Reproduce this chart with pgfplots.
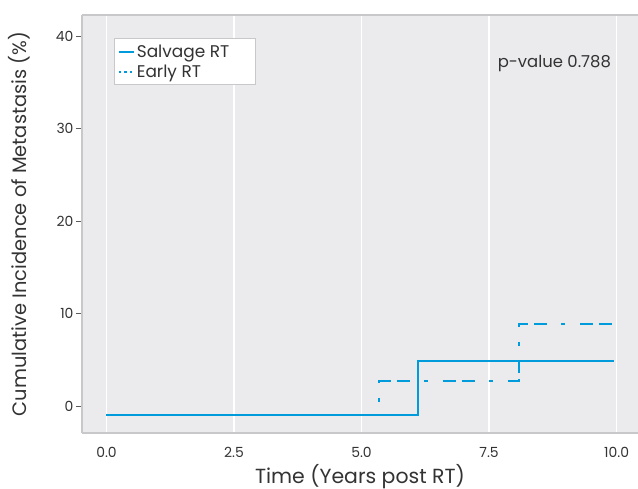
\documentclass[border=0pt]{standalone}
\usepackage{fontspec}
\setmainfont{Poppins}
\usepackage{pgfplots}
\pgfplotsset{compat=1.18}

\definecolor{rtblue}{RGB}{0,155,219}
\definecolor{panel}{RGB}{235,235,238}
\definecolor{frame}{RGB}{200,200,202}
\definecolor{txt}{RGB}{51,51,51}

\begin{document}
\begin{tikzpicture}
\useasboundingbox (-82bp,-56bp) rectangle (556bp,433bp);
\begin{axis}[
  scale only axis,
  width=556bp, height=418bp,
  xmin=-0.48, xmax=10.42,
  ymin=-2.9, ymax=42.3,
  axis background/.style={fill=panel},
  axis x line*=bottom, axis y line*=left,
  axis line style={draw=frame, line width=1.2bp, -},
  xtick={0,2.5,5,7.5,10},
  xticklabels={0.0,2.5,5.0,7.5,10.0},
  ytick={0,10,20,30,40},
  xmajorgrids,
  grid style={white, line width=1.3bp},
  tick align=outside,
  major tick length=6bp,
  xtick style={draw=none},
  ytick style={draw=txt!80, line width=0.8bp},
  /pgf/number format/assume math mode=true,
  tick label style={font=\fontsize{14}{16}\selectfont, text=txt},
  xticklabel style={yshift=-5bp},
  yticklabel style={xshift=1bp},
  xlabel={Time (Years post RT)},
  xlabel style={at={(rel axis cs:0.5,0)}, anchor=base, yshift=-50bp,
    font=\fontsize{20.5}{22}\selectfont, text=txt},
  ylabel={Cumulative Incidence of Metastasis (\%)},
  ylabel style={at={(rel axis cs:0,0.5)}, anchor=base, rotate=0, yshift=55bp,
    font=\fontsize{19.5}{21}\selectfont, text=txt},
  legend style={at={(rel axis cs:0.058,0.944)}, anchor=north west,
    draw=frame, fill=white, line width=0.8bp,
    font=\fontsize{17}{19}\selectfont, text=txt,
    inner xsep=3bp, inner ysep=4bp, row sep=2bp},
  legend cell align=left,
  legend image code/.code={\draw[#1] (0bp,0bp) -- (15bp,0bp);},
]
\draw[frame, line width=1.2bp] (rel axis cs:0,1) -- (rel axis cs:1,1);

\addlegendimage{rtblue, line width=2.2bp}
\addlegendentry{Salvage RT\rule{21bp}{0pt}}
\addlegendimage{rtblue, line width=2.2bp, dash pattern=on 2.5bp off 3bp}
\addlegendentry{Early RT}

\addplot[rtblue, line width=2.2bp, const plot, forget plot] coordinates {
  (0,-0.95) (6.1,4.85) (9.95,4.85)
};

\addplot[rtblue, line width=2.2bp, const plot, forget plot,
  dash pattern=on 13bp off 6bp on 13bp off 14bp on 4bp off 15bp, dash phase=20bp] coordinates {
  (0,-0.95) (5.35,2.7) (8.08,8.9) (9.95,8.9)
};

\node[font=\fontsize{16.5}{18}\selectfont, text=txt] at (axis cs:8.78,37.1) {p-value 0.788};
\end{axis}
\end{tikzpicture}
\end{document}
